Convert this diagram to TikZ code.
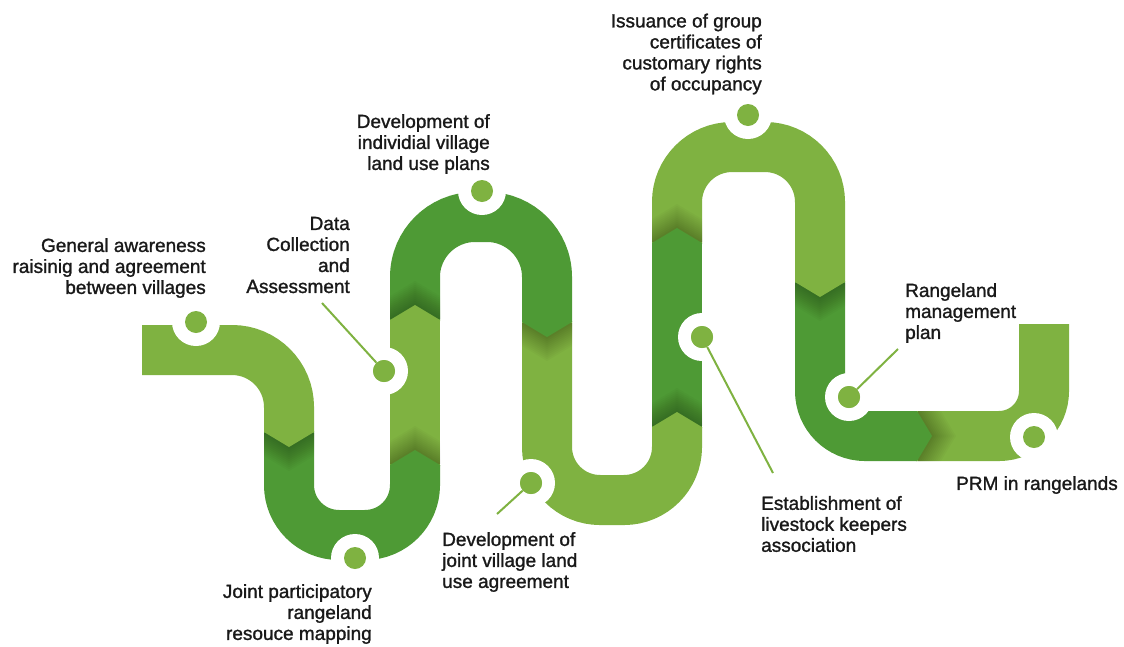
\documentclass[tikz,border=0pt]{standalone}
\usepackage{fontspec}
\setmainfont{Liberation Sans}
\newfontfamily\labelfont{Liberation Sans}[FakeBold=1.3]
\usepackage{xcolor}
\usetikzlibrary{positioning}

\definecolor{pathlight}{HTML}{7FB241}
\definecolor{pathdark}{HTML}{4E9A35}

\begin{document}
\begin{tikzpicture}[
    x=1pt, y=-1pt,
    band/.style={line width=50pt, line cap=butt},
    ring/.style={circle, fill=white, minimum size=48pt, inner sep=0pt},
    dot/.style={circle, fill=pathlight, minimum size=22pt, inner sep=0pt},
    leader/.style={draw=pathlight, line width=2pt},
    steplabel/.style={font=\labelfont\fontsize{19}{21}\selectfont, inner sep=0pt, text=black!90}
]
    \useasboundingbox (0,0) rectangle (1124,646);

    % ── Serpentin : segments alternés clair / foncé ──
    \draw[band, pathlight, rounded corners=57] (142,350) -- (289,350) -- (289,432);
    \draw[band, pathdark, rounded corners=50] (289,432) -- (289,535) -- (415,535) -- (415,465);
    \draw[band, pathlight] (415,465) -- (415,320);
    \draw[band, pathdark, rounded corners=60] (415,320) -- (415,217) -- (547,217) -- (547,322);
    \draw[band, pathlight, rounded corners=53] (547,322) -- (547,500) -- (677,500) -- (677,427);
    \draw[band, pathdark] (677,427) -- (677,243);
    \draw[band, pathlight, rounded corners=55] (677,243) -- (677,147) -- (820,147) -- (820,282);
    \draw[band, pathdark, rounded corners=45] (820,282) -- (820,436) -- (917,436);
    \draw[band, pathlight, rounded corners=45] (917,436) -- (1044,436) -- (1044,324);

    % ── Chevrons verticaux avec ombre portée ──
    \foreach \bx/\by/\dir/\col in {289/432/1/pathlight, 415/465/-1/pathdark,
        415/320/-1/pathlight, 547/322/1/pathdark, 677/427/-1/pathlight,
        677/243/-1/pathdark, 820/282/1/pathlight}{
        \foreach \s in {2,4,...,24}{
            \fill[black, opacity=0.025] (\bx-25,\by+\dir) -- (\bx-25,\by+\dir*\s)
                -- (\bx,\by+\dir*15+\dir*\s) -- (\bx+25,\by+\dir*\s) -- (\bx+25,\by+\dir) -- cycle;
        }
        \fill[\col] (\bx-25,\by-\dir) -- (\bx-25,\by) -- (\bx,\by+\dir*15)
            -- (\bx+25,\by) -- (\bx+25,\by-\dir) -- cycle;
    }

    % ── Chevron horizontal (dernier passage) ──
    \foreach \s in {2,4,...,24}{
        \fill[black, opacity=0.025] (918,411) -- (917+\s,411) -- (932+\s,436)
            -- (917+\s,461) -- (918,461) -- cycle;
    }
    \fill[pathdark] (916,411) -- (917,411) -- (932,436) -- (917,461) -- (916,461) -- cycle;

    % ── Anneaux blancs des étapes ──
    \foreach \n/\px/\py in {1/196/322, 2/384/371, 3/355/558, 4/482/191, 5/531/483,
        6/748/115, 7/702/337, 8/849/397, 9/1034/437}{
        \node[ring] (ring\n) at (\px,\py) {};
        \node[dot] (dot\n) at (\px,\py) {};
    }

    % ── Traits de rappel ──
    \coordinate (tip2) at (322,303);
    \coordinate (tip5) at (497,514);
    \coordinate (tip7) at (773,473);
    \coordinate (tip8) at (898,349);
    \draw[leader] (dot2) -- (tip2);
    \draw[leader] (dot5) -- (tip5);
    \draw[leader] (dot7) -- (tip7);
    \draw[leader] (dot8) -- (tip8);
    \foreach \n in {2,5,7,8}{ \node[dot] at (dot\n) {}; }

    % ── Libellés ──
    \node[steplabel, align=right, anchor=east] (awareness) at (206,268)
        {General awareness\\raisinig and agreement\\between villages};
    \node[steplabel, align=right, anchor=east] (datacoll) at (350,255)
        {Data\\Collection\\and\\Assessment};
    \node[steplabel, align=right, anchor=east] (jointmap) at (372,614)
        {Joint participatory\\rangeland\\resouce mapping};
    \node[steplabel, align=right, anchor=east] (villplan) at (490,144)
        {Development of\\individial village\\land use plans};
    \node[steplabel, align=left, anchor=west] (jointagr) at (442,562)
        {Development of\\joint village land\\use agreement};
    \node[steplabel, align=right, anchor=east] (issuance) at (762,54)
        {Issuance of group\\certificates of\\customary rights\\of occupancy};
    \node[steplabel, align=left, anchor=west] (keepers) at (761,524)
        {Establishment of\\livestock keepers\\association};
    \node[steplabel, align=left, anchor=west] (mgmtplan) at (905,313)
        {Rangeland\\management\\plan};
    \node[steplabel, anchor=west] (prm) at (956,485) {PRM in rangelands};

\end{tikzpicture}
\end{document}
